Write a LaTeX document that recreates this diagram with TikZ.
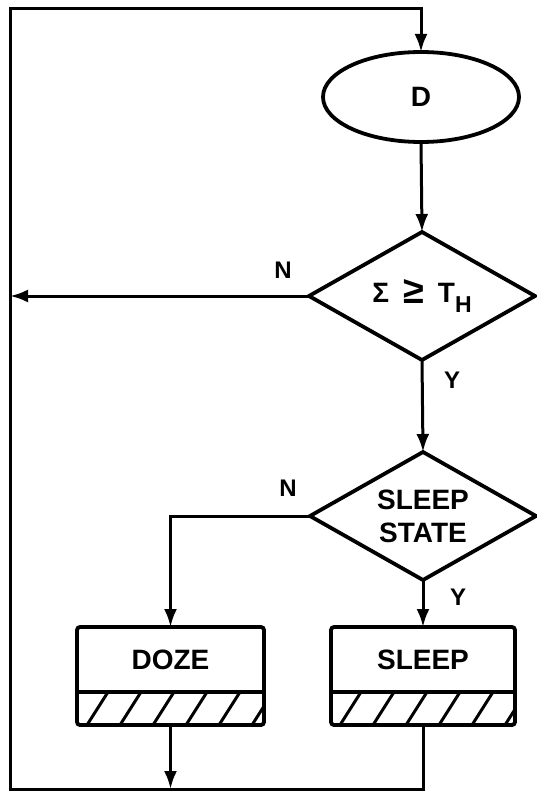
\documentclass[tikz,border=0pt]{standalone}
\usepackage{fontspec}
\setmainfont{Liberation Sans}
\usetikzlibrary{shapes.geometric,arrows.meta,calc}
\begin{document}
\begin{tikzpicture}[x=1pt,y=-1pt,
  shapeline/.style={draw,line width=3.8pt},
  conn/.style={line width=3pt},
  arr/.style={conn,-{Latex[length=18pt,width=13pt]}},
  lbl/.style={font=\bfseries\fontsize{24}{24}\selectfont,inner sep=0},
  txt/.style={font=\bfseries\fontsize{28}{33}\selectfont,align=center,inner sep=0},
  dec/.style={shapeline,diamond,aspect=2,inner sep=0,outer sep=0,minimum width=226pt,minimum height=128pt},
  procbox/.style={shapeline,rectangle,rounded corners=3pt,inner sep=0,outer sep=0,minimum height=98pt},
  hatch/.style={line width=3pt}
]
\useasboundingbox (0,0) rectangle (536,792);
% frame corners of the return loop
\coordinate (tl) at (10,9);
\coordinate (bl) at (10,789);
% nodes
\node[shapeline,ellipse,inner sep=0,outer sep=0,minimum width=196pt,minimum height=90pt,txt] (D) at (421,97) {D};
\node[dec,txt] (dec1) at (422,296) {Σ\hspace{0.5em}\raisebox{-1pt}{\scalebox{1.35}{≥}}\hspace{0.5em}T\raisebox{-10pt}{\fontsize{23}{23}\selectfont H}};
\node[dec,txt] (dec2) at (423,516) {SLEEP\\STATE};
\node[procbox,minimum width=187pt] (doze) at (170.5,676) {};
\node[procbox,minimum width=184pt] (sleep) at (423,676) {};
\node[txt] (dozet) at ($(doze.north)+(0,33)$) {DOZE};
\node[txt] (sleept) at ($(sleep.north)+(0,33)$) {SLEEP};
% hatched bands
\begin{scope}
  \clip (77,692) rectangle (264,725);
  \foreach \x in {54,87,120,153,186,219,252}
    \draw[hatch] (\x,725) -- (\x+21,692);
\end{scope}
\begin{scope}
  \clip (331,692) rectangle (515,725);
  \foreach \x in {307,340,373,406,439,472,505}
    \draw[hatch] (\x,725) -- (\x+21,692);
\end{scope}
\draw[shapeline] (77,692) -- (264,692);
\draw[shapeline] (331,692) -- (515,692);
% connectors
\draw[arr] (D.south) -- (dec1.north);
\draw[arr] (dec1.west) -- (tl |- dec1.west);
\draw[arr] (dec1.south) -- (dec2.north);
\draw[arr] (dec2.west) -| (doze.north);
\draw[arr] (dec2.south) -- (sleep.north);
\draw[arr] (doze.south) -- (doze.south |- bl);
\draw[arr] (sleep.south) -- (sleep.south |- bl) -- (bl) -- (tl) -| (D.north);
% branch labels
\node[lbl] (n1) at (283,270) {N};
\node[lbl] (y1) at (452,380) {Y};
\node[lbl] (n2) at (288,488) {N};
\node[lbl] (y2) at (458,597) {Y};
\end{tikzpicture}
\end{document}
